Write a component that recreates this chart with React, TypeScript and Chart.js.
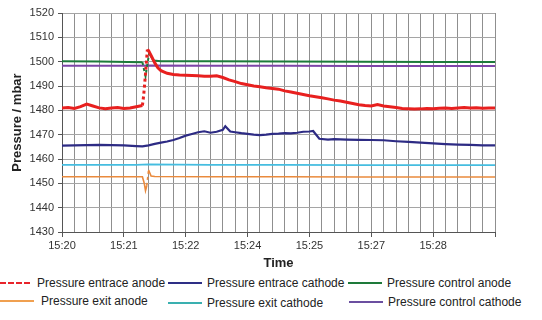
import React, { useEffect, useRef } from "react";
import { Chart, registerables } from "chart.js";
Chart.register(...registerables);

const xTickLabels = ["15:20", "15:21", "15:22", "15:24", "15:25", "15:27", "15:28"];
const seriesNames = [
  "Pressure entrace anode",
  "Pressure entrace cathode",
  "Pressure control anode",
  "Pressure exit anode",
  "Pressure exit cathode",
  "Pressure control cathode",
];

const redX = [0, 0.5, 1, 1.5, 2, 2.5, 3, 3.5, 4, 4.5, 5, 5.5, 6, 6.5, 6.6, 6.75, 6.9, 7, 7.25, 7.5, 7.75, 8, 8.5, 9, 9.5, 10, 10.5, 11, 11.5, 12, 12.5, 13, 13.5, 14, 14.5, 15, 15.5, 16, 16.5, 17, 17.5, 18, 18.5, 19, 19.5, 20, 20.5, 21, 21.5, 22, 22.5, 23, 23.5, 24, 24.5, 25, 25.5, 26, 26.5, 27, 27.5, 28, 28.5, 29, 29.5, 30, 30.5, 31, 31.5, 32, 32.5, 33, 33.5, 34, 34.5, 35];
const redY = [1481, 1481.2, 1480.8, 1481.5, 1482.6, 1481.8, 1481, 1480.7, 1481, 1481.2, 1480.8, 1481, 1481.5, 1482, 1486, 1495, 1505, 1504.5, 1502, 1499.5, 1497.5, 1496.3, 1495.2, 1494.7, 1494.5, 1494.4, 1494.3, 1494.2, 1494, 1494, 1494.2, 1493.5, 1492.5, 1491.8, 1491, 1490.5, 1490, 1489.7, 1489.3, 1489, 1488.7, 1488, 1487.5, 1487, 1486.5, 1486, 1485.6, 1485.2, 1484.7, 1484.2, 1483.8, 1483.3, 1482.8, 1482.3, 1482, 1481.8, 1482.4, 1481.8, 1481.5, 1481.2, 1480.8, 1480.7, 1480.5, 1480.6, 1480.8, 1480.7, 1480.9, 1481, 1480.8, 1481, 1481.2, 1481, 1481.1, 1480.9, 1481, 1481];

const blueX = [0, 1, 2, 3, 4, 5, 6, 6.5, 7, 7.5, 8, 8.5, 9, 9.5, 10, 10.5, 11, 11.5, 12, 12.5, 13, 13.2, 13.6, 14, 14.5, 15, 15.5, 16, 16.5, 17, 17.5, 18, 18.5, 19, 19.5, 20, 20.3, 20.8, 21.5, 22, 23, 24, 25, 26, 27, 28, 29, 30, 31, 32, 33, 34, 35];
const blueY = [1465.5, 1465.6, 1465.7, 1465.8, 1465.7, 1465.6, 1465.3, 1465.2, 1465.6, 1466.2, 1466.7, 1467.2, 1467.8, 1468.6, 1469.6, 1470.3, 1471, 1471.4, 1470.8, 1471.2, 1472, 1473.5, 1471.3, 1471, 1470.6, 1470.3, 1470, 1469.8, 1470, 1470.3, 1470.4, 1470.6, 1470.5, 1470.8, 1471.2, 1471.3, 1471.5, 1468.3, 1468, 1468.2, 1468, 1467.9, 1467.8, 1467.7, 1467.3, 1467, 1466.7, 1466.4, 1466.1, 1465.9, 1465.8, 1465.6, 1465.6];

const greenX = [0, 3, 6.5, 6.75, 6.9, 7.05, 7.4, 8, 12, 18, 24, 30, 35];
const greenY = [1500.2, 1500.1, 1499.8, 1494, 1499, 1503.5, 1500.5, 1500.2, 1500.2, 1500.1, 1500, 1499.9, 1499.9];

const orangeX = [0, 3, 6.5, 6.65, 6.75, 6.85, 7.0, 7.2, 7.5, 12, 18, 24, 30, 35];
const orangeY = [1452.7, 1452.7, 1452.7, 1450, 1447, 1449, 1455.5, 1453, 1452.8, 1452.7, 1452.7, 1452.6, 1452.6, 1452.6];

const cyanX = [0, 6, 7, 12, 18, 24, 30, 35];
const cyanY = [1457.6, 1457.6, 1457.8, 1457.6, 1457.6, 1457.5, 1457.5, 1457.5];

const purpleX = [0, 6, 7, 12, 18, 24, 30, 35];
const purpleY = [1498.3, 1498.3, 1498.4, 1498.3, 1498.3, 1498.2, 1498.2, 1498.2];

const zip = (xs: number[], ys: number[]) => xs.map((x, i) => ({ x, y: ys[i] }));

const plotColors = ["#e8201f", "#2d2b84", "#1d7a3a", "#ea8a3c", "#45bde0", "#7d45a8"];
const legendColors = ["#e8242b", "#2e2f86", "#1e7a3a", "#f0a050", "#3ab0b0", "#6b4fa0"];

const jumpDash = (ctx: any) =>
  Math.abs(ctx.p1.parsed.y - ctx.p0.parsed.y) > 3 ? [3, 3] : undefined;

const legendPos = [
  { left: 0, top: 283 },
  { left: 168, top: 283 },
  { left: 348, top: 283 },
  { left: 0, top: 301 },
  { left: 168, top: 303 },
  { left: 349, top: 302 },
];

export default function App() {
  const ref = useRef<HTMLCanvasElement>(null);
  useEffect(() => {
    if (!ref.current) return;
    const font = "'Liberation Sans', Arial, sans-serif";
    const chart = new Chart(ref.current, {
      type: "line",
      data: {
        datasets: [
          { label: seriesNames[0], data: zip(redX, redY), borderColor: plotColors[0], borderWidth: 3, segment: { borderDash: jumpDash } },
          { label: seriesNames[1], data: zip(blueX, blueY), borderColor: plotColors[1], borderWidth: 2.2 },
          { label: seriesNames[2], data: zip(greenX, greenY), borderColor: plotColors[2], borderWidth: 2, segment: { borderDash: jumpDash } },
          { label: seriesNames[3], data: zip(orangeX, orangeY), borderColor: plotColors[3], borderWidth: 1.6, segment: { borderDash: jumpDash } },
          { label: seriesNames[4], data: zip(cyanX, cyanY), borderColor: plotColors[4], borderWidth: 1.6 },
          { label: seriesNames[5], data: zip(purpleX, purpleY), borderColor: plotColors[5], borderWidth: 2 },
        ] as any,
      },
      options: {
        animation: false,
        responsive: false,
        events: [],
        elements: { point: { radius: 0 }, line: { tension: 0 } },
        layout: { padding: { top: 13, right: 47, left: 0, bottom: 0 } },
        plugins: { legend: { display: false }, tooltip: { enabled: false } },
        scales: {
          x: {
            type: "linear",
            min: 0,
            max: 35,
            afterFit: (s: any) => { s.height = 43; },
            ticks: {
              stepSize: 1,
              autoSkip: false,
              maxRotation: 0,
              padding: 2,
              color: "#333",
              font: { family: font, size: 11 },
              callback: (v: any) => {
                const n = Number(v);
                return n % 5 === 0 && n / 5 < xTickLabels.length ? xTickLabels[n / 5] : "";
              },
            },
            grid: {
              color: "#8f8f8f",
              lineWidth: 1,
              tickLength: 5,
              tickColor: (ctx: any) => (ctx.tick && ctx.tick.value % 5 === 0 ? "#555" : "transparent"),
            },
            border: { color: "#555" },
            title: {
              display: true,
              text: "Time",
              color: "#222",
              font: { family: font, size: 13, weight: "bold" },
              padding: { top: 2, bottom: 4 },
            },
          },
          y: {
            min: 1430,
            max: 1520,
            afterFit: (s: any) => { s.width = 62; },
            ticks: {
              stepSize: 10,
              color: "#333",
              padding: 4,
              font: { family: font, size: 11 },
              callback: (v: any) => String(v),
            },
            grid: { color: "#a5a5a5", tickLength: 4, tickColor: "#555" },
            border: { color: "#555" },
            title: {
              display: true,
              text: "Pressure / mbar",
              color: "#222",
              font: { family: font, size: 13, weight: "bold" },
              padding: { top: 10, bottom: 0 },
            },
          },
        },
      } as any,
    });
    return () => chart.destroy();
  }, []);

  return (
    <div style={{ position: "absolute", left: 0, top: 0, width: 542, height: 320, background: "#fff" }}>
      <canvas ref={ref} width={542} height={275} style={{ display: "block", width: 542, height: 275 }} />
      {seriesNames.map((name, i) => (
        <div
          key={name}
          style={{
            position: "absolute",
            left: legendPos[i].left,
            top: legendPos[i].top - 8,
            height: 16,
            display: "flex",
            alignItems: "center",
            whiteSpace: "nowrap",
            fontFamily: "'Liberation Sans', Arial, sans-serif",
            fontSize: 12,
            color: "#222",
          }}
        >
          <div
            style={{
              width: i === 0 ? 30 : 34,
              borderTop: `2px ${i === 0 ? "dashed" : "solid"} ${legendColors[i]}`,
              marginRight: i === 0 || i === 3 ? 7 : 5,
            }}
          />
          <span>{name}</span>
        </div>
      ))}
    </div>
  );
}
